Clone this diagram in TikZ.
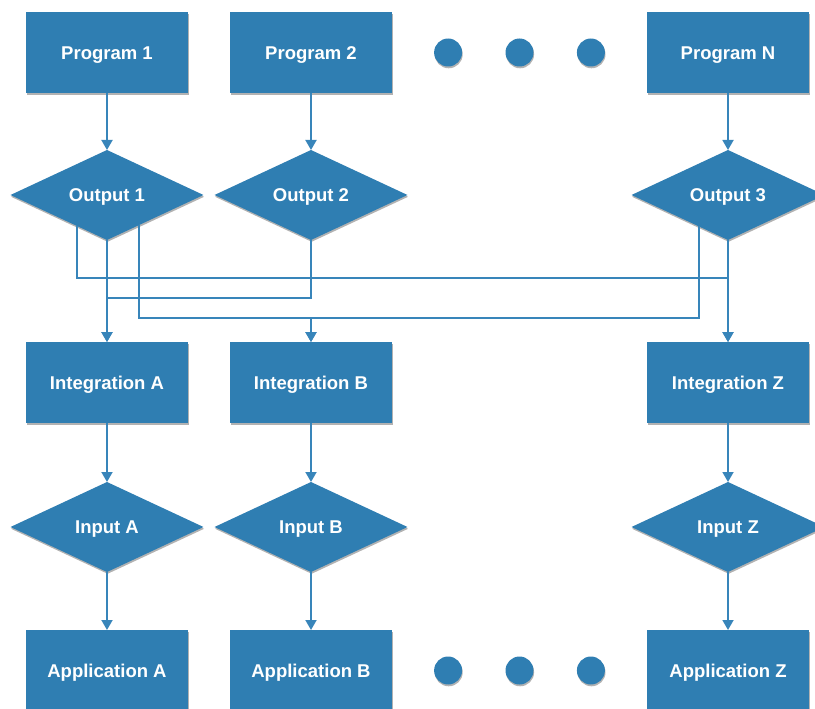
\documentclass[tikz,border=0pt]{standalone}
\usepackage{fontspec}
\setmainfont{Liberation Sans}
\usepackage{tikz}
\usetikzlibrary{arrows.meta,positioning,calc,shapes.geometric,shadows}
\definecolor{flowblue}{RGB}{47,126,178}
\definecolor{wireblue}{RGB}{56,133,186}

\begin{document}
\begin{tikzpicture}[
    >={Triangle[width=11pt,length=10pt]},
    font=\fontsize{18.5}{20}\selectfont\bfseries,
    softshadow/.style={drop shadow={shadow xshift=0.6pt, shadow yshift=-1.8pt, opacity=0.3, fill=black}},
    block/.style={rectangle, fill=flowblue, text=white, text height=13.3pt, text depth=0pt, minimum width=162pt, minimum height=81pt, outer sep=0pt, softshadow},
    gate/.style={diamond, fill=flowblue, text=white, text height=13.3pt, text depth=0pt, aspect=2.14, inner sep=0pt, minimum width=193pt, minimum height=90pt, outer sep=0pt, softshadow},
    blob/.style={circle, fill=flowblue, minimum size=28pt, inner sep=0pt, softshadow},
    flow/.style={->, draw=wireblue, line width=1.8pt}
]
\useasboundingbox (-107pt,52.5pt) rectangle (708pt,-656.5pt);

% sources
\node[block] (prog1) {Program 1};
\node[block, right=42pt of prog1] (prog2) {Program 2};
\node[block, right=255pt of prog2] (progN) {Program N};

% outputs
\node[gate, below=57pt of prog1] (out1) {Output 1};
\node[gate, below=57pt of prog2] (out2) {Output 2};
\node[gate, below=57pt of progN] (out3) {Output 3};

% integrations
\node[block, below=102pt of out1] (intA) {Integration A};
\node[block, below=102pt of out2] (intB) {Integration B};
\node[block, below=102pt of out3] (intZ) {Integration Z};

% inputs
\node[gate, below=59pt of intA] (inA) {Input A};
\node[gate, below=59pt of intB] (inB) {Input B};
\node[gate, below=59pt of intZ] (inZ) {Input Z};

% applications
\node[block, below=58pt of inA] (appA) {Application A};
\node[block, below=58pt of inB] (appB) {Application B};
\node[block, below=58pt of inZ] (appZ) {Application Z};

% ellipsis dots
\foreach \t [count=\i] in {0.22,0.5,0.78} {
  \node[blob] (topdot\i) at ($(prog2.east)!\t!(progN.west)$) {};
  \node[blob] (botdot\i) at ($(appB.east)!\t!(appZ.west)$) {};
}

% exits on the lower diamond edges and bus levels
\coordinate (o1l) at ($(out1.south)!0.31!(out1.west)$);
\coordinate (o1r) at ($(out1.south)!0.33!(out1.east)$);
\coordinate (o3l) at ($(out3.south)!0.30!(out3.west)$);
\coordinate (busA) at ($(out1.south)+(0,-38pt)$);
\coordinate (busB) at ($(out1.south)+(0,-58pt)$);
\coordinate (busC) at ($(out1.south)+(0,-78pt)$);

\draw[flow] (prog1) -- (out1);
\draw[flow] (prog2) -- (out2);
\draw[flow] (progN) -- (out3);

\draw[flow] (out1.south) -- (intA.north);
\draw[flow] (out3.south) -- (intZ.north);
\draw[flow] (o1l) -- (o1l |- busA) -| (intZ.north);
\draw[flow] (out2.south) -- (out2.south |- busB) -| (intA.north);
\draw[flow] (o1r) -- (o1r |- busC) -| (intB.north);
\draw[flow] (o3l) -- (o3l |- busC) -| (intB.north);

\draw[flow] (intA) -- (inA);
\draw[flow] (intB) -- (inB);
\draw[flow] (intZ) -- (inZ);

\draw[flow] (inA) -- (appA);
\draw[flow] (inB) -- (appB);
\draw[flow] (inZ) -- (appZ);
\end{tikzpicture}
\end{document}
